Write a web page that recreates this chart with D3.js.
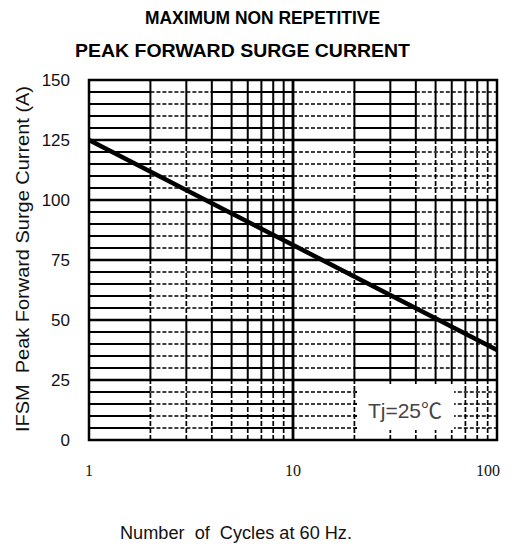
<!DOCTYPE html>
<html><head><meta charset="utf-8">
<script src="https://cdn.jsdelivr.net/npm/d3@7/dist/d3.min.js"></script>
<style>body{margin:0;background:#fff}svg{display:block}text{white-space:pre}</style>
</head><body>
<script>
const cycles = [1, 10, 100];
const current = [125, 81.25, 37.5];
const yTicks = [0, 25, 50, 75, 100, 125, 150];
const xTicks = [1, 10, 100];
const titleLines = ["MAXIMUM NON REPETITIVE", "PEAK FORWARD SURGE CURRENT"];
const yTitle = "IFSM  Peak Forward Surge Current (A)";
const xTitle = "Number  of  Cycles at 60 Hz.";
const note = "Tj=25\u2103";

const W = 516, H = 546;
const SANS = "Liberation Sans, Arial, sans-serif";
const svg = d3.select("body").append("svg").attr("width", W).attr("height", H);
const x = d3.scaleLog().domain([1, 100]).range([89, 497]);
const y = d3.scaleLinear().domain([0, 150]).range([440, 80]);

const g = svg.append("g");
// minor horizontal lines, alternating solid / dashed by x segment
const xSegs = [[1,2,false],[2,4,true],[4,10,false],[10,20,true],[20,40,false],[40,100,true]];
const minorY = d3.range(5, 150, 5).filter(v => v % 25 !== 0);
minorY.forEach(v => {
  xSegs.forEach(([a,b,dash]) => {
    g.append("line").attr("x1", x(a)).attr("x2", x(b)).attr("y1", y(v)).attr("y2", y(v))
      .attr("stroke", "#000").attr("stroke-width", dash ? 1.5 : 1.8)
      .attr("stroke-dasharray", dash ? "4,2" : null);
  });
});
// minor vertical lines
const ySegs = [[0,25,true],[25,50,false],[50,75,true],[75,100,false],[100,125,true],[125,150,false]];
const minorX = [2,3,4,5,6,7,8,9,20,30,40,50,60,70,80,90];
minorX.forEach(v => {
  ySegs.forEach(([a,b,dash]) => {
    g.append("line").attr("x1", x(v)).attr("x2", x(v)).attr("y1", y(a)).attr("y2", y(b))
      .attr("stroke", "#000").attr("stroke-width", dash ? 1.7 : 2)
      .attr("stroke-dasharray", dash ? "5,2" : null);
  });
});
// major lines
[25,50,75,100,125].forEach(v => {
  g.append("line").attr("x1", x(1)).attr("x2", x(100)).attr("y1", y(v)).attr("y2", y(v))
    .attr("stroke", "#000").attr("stroke-width", 2.5);
});
g.append("line").attr("x1", x(10)).attr("x2", x(10)).attr("y1", y(0)).attr("y2", y(150))
  .attr("stroke", "#000").attr("stroke-width", 2.8);

// note box
g.append("rect").attr("x", 357).attr("y", 386).attr("width", 97).attr("height", 44).attr("fill", "#fff");
g.append("text").attr("x", 405).attr("y", 418).attr("text-anchor", "middle")
  .attr("font-family", SANS).attr("font-size", 21).attr("fill", "#444")
  .text("Tj=25").append("tspan").attr("font-family", "Noto Sans CJK SC, sans-serif").text("\u2103");

// border
g.append("rect").attr("x", x(1)).attr("y", y(150)).attr("width", x(100) - x(1)).attr("height", y(0) - y(150))
  .attr("fill", "none").attr("stroke", "#000").attr("stroke-width", 2.5);

// curve
const line = d3.line().x((d, i) => x(cycles[i])).y(d => y(d));
g.append("path").datum(current).attr("d", line).attr("fill", "none")
  .attr("stroke", "#000").attr("stroke-width", 4.5);

// y ticks
svg.append("g").selectAll("text").data(yTicks).join("text")
  .attr("x", 70).attr("y", d => y(d) + 6).attr("text-anchor", "end")
  .attr("font-family", SANS).attr("font-size", 17).attr("fill", "#111")
  .text(d => d);
// x ticks
svg.append("g").selectAll("text").data(xTicks).join("text")
  .attr("x", d => x(d) + (d === 100 ? -9 : 0)).attr("y", 476).attr("text-anchor", "middle")
  .attr("font-family", "Liberation Serif, Times New Roman, serif").attr("font-size", 16).attr("fill", "#111")
  .text(d => d);

// titles
svg.append("text").attr("x", 145).attr("y", 24).attr("textLength", 235).attr("lengthAdjust", "spacingAndGlyphs")
  .attr("font-family", SANS).attr("font-weight", "bold").attr("font-size", 17.5)
  .text(titleLines[0]);
svg.append("text").attr("x", 75).attr("y", 57).attr("textLength", 335).attr("lengthAdjust", "spacingAndGlyphs")
  .attr("font-family", SANS).attr("font-weight", "bold").attr("font-size", 17.5)
  .text(titleLines[1]);
svg.append("text").attr("transform", "translate(29,432) rotate(-90)").attr("text-anchor", "start")
  .attr("textLength", 346).attr("lengthAdjust", "spacingAndGlyphs")
  .attr("font-family", SANS).attr("font-size", 18.5).attr("fill", "#111")
  .text(yTitle);
svg.append("text").attr("x", 120).attr("y", 539).attr("textLength", 232).attr("lengthAdjust", "spacingAndGlyphs")
  .attr("font-family", SANS).attr("font-size", 17.5).attr("fill", "#111")
  .text(xTitle);
</script>
</body></html>
